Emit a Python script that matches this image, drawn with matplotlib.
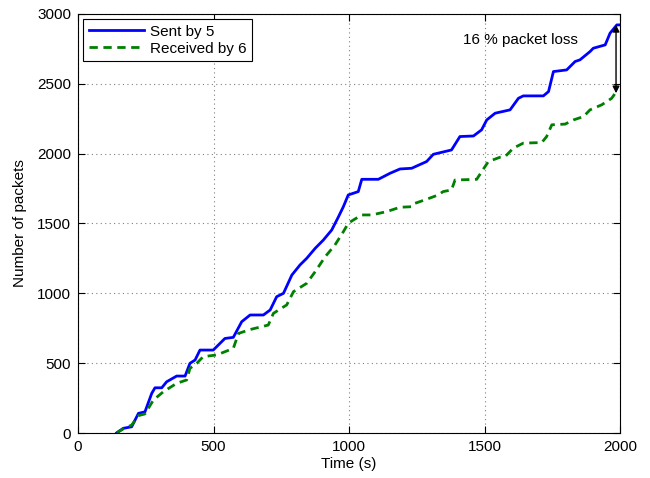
import numpy as np
import matplotlib
matplotlib.use("Agg")
import matplotlib.pyplot as plt

# Packets sent by node 5 (time in s, cumulative count)
sent_t = [143, 167, 198, 223, 247, 272, 284, 309, 327, 364, 395, 413, 432, 450, 499,
          542, 573, 604, 635, 684, 709, 733, 758, 789, 819, 844, 875, 905, 936, 961,
          979, 997, 1034, 1047, 1108, 1151, 1188, 1231, 1286, 1311, 1378, 1409, 1459,
          1489, 1508, 1539, 1594, 1625, 1643, 1717, 1736, 1754, 1803, 1834, 1852,
          1889, 1901, 1945, 1963, 1988, 1998]
sent_n = [2, 34, 45, 141, 152, 284, 324, 324, 367, 408, 408, 499, 523, 594, 594,
          677, 685, 797, 845, 845, 881, 976, 1000, 1131, 1203, 1251, 1322, 1381, 1453, 1548,
          1620, 1704, 1728, 1816, 1816, 1859, 1890, 1895, 1943, 1995, 2026, 2122, 2126,
          2170, 2241, 2289, 2313, 2396, 2413, 2413, 2444, 2587, 2599, 2659, 2671,
          2730, 2754, 2778, 2862, 2921, 2921]

# Packets received by node 6
recv_t = [143, 167, 198, 223, 247, 278, 315, 364, 401, 413, 438, 462, 512, 573, 592,
          635, 702, 721, 770, 795, 844, 875, 912, 948, 979, 997, 1016, 1047, 1084,
          1139, 1188, 1231, 1243, 1286, 1329, 1347, 1378, 1391, 1471, 1489, 1514,
          1557, 1576, 1606, 1643, 1711, 1729, 1748, 1797, 1828, 1865, 1889, 1932,
          1969, 1982]
recv_n = [2, 30, 57, 125, 137, 236, 296, 356, 380, 463, 499, 547, 559, 606, 713,
          741, 773, 857, 917, 1012, 1072, 1155, 1262, 1346, 1441, 1501, 1525, 1561, 1561,
          1585, 1616, 1620, 1644, 1673, 1704, 1728, 1740, 1811, 1816, 1870, 1943,
          1974, 1979, 2039, 2075, 2079, 2122, 2206, 2211, 2241, 2265, 2313, 2349,
          2396, 2432]

plt.rcParams['font.family'] = ['Liberation Sans', 'DejaVu Sans']
plt.rcParams['font.size'] = 11

fig = plt.figure(figsize=(6.5, 4.78), dpi=100)
ax = fig.add_axes([0.12, 0.094, 0.834, 0.877])

ax.plot(sent_t, sent_n, color='#0000ff', linewidth=2, label='Sent by 5')
ax.plot(recv_t, recv_n, color='#008000', linewidth=2, linestyle=(0, (3, 2)),
        label='Received by 6')

# packet-loss arrow at the end of the run
ax.annotate('', xy=(sent_t[-2] - 3, recv_n[-1]), xytext=(sent_t[-2] - 3, sent_n[-1]),
            arrowprops=dict(arrowstyle='<|-|>', color='black', lw=1,
                            mutation_scale=10, shrinkA=0, shrinkB=0))
ax.text(1420, 2815, '16 % packet loss', fontsize=11, va='center', ha='left')

ax.set_xlim(0, 2000)
ax.set_ylim(0, 3000)
ax.set_xticks([0, 500, 1000, 1500, 2000])
ax.set_yticks(np.arange(0, 3001, 500))
ax.set_xlabel('Time (s)', labelpad=2)
ax.set_ylabel('Number of packets', labelpad=7)
ax.tick_params(direction='in', top=True, right=True, length=5, pad=5)
ax.grid(True, linestyle=(0, (1, 3)), color='#808080', linewidth=0.8)

leg = ax.legend(loc='upper left', fancybox=False, edgecolor='black',
                framealpha=1, borderaxespad=0.35, handlelength=3.6,
                borderpad=0.35, labelspacing=0.2, handletextpad=0.4)
leg.get_frame().set_linewidth(0.8)

fig.savefig('out.png', dpi=100)
